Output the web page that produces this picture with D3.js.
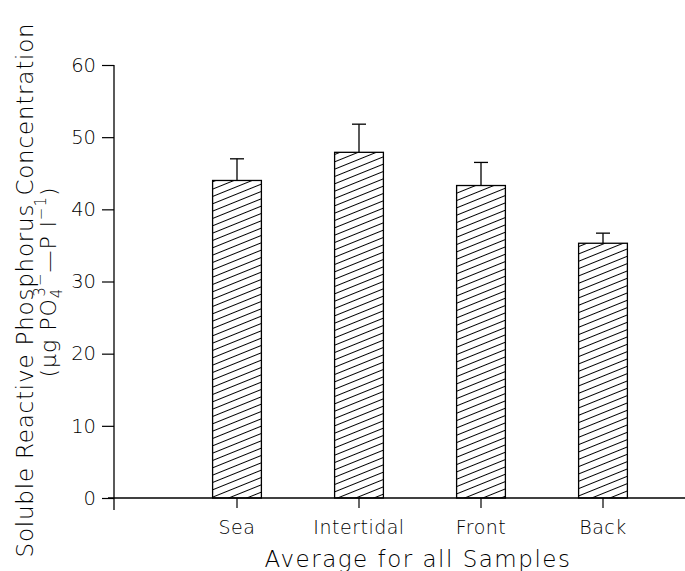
<!DOCTYPE html>
<html>
<head>
<meta charset="utf-8">
<script src="https://cdn.jsdelivr.net/npm/d3@7"></script>
<style>
  body { margin: 0; background: #fff; }
  text { font-family: "DejaVu Sans", sans-serif; font-weight: 200; fill: #000; }
</style>
</head>
<body>
<div id="chart"></div>
<script>
// data
var categories = ["Sea", "Intertidal", "Front", "Back"];
var means = [44.0, 47.9, 43.3, 35.3];
var errors = [3.0, 3.9, 3.2, 1.4];
var yTicks = [0, 10, 20, 30, 40, 50, 60];

var width = 685, height = 571;

var svg = d3.select("#chart")
    .append("svg")
    .attr("width", width)
    .attr("height", height);

// hatch pattern for the bars
var defs = svg.append("defs");
defs.append("pattern")
    .attr("id", "hatch")
    .attr("patternUnits", "userSpaceOnUse")
    .attr("width", 40)
    .attr("height", 6.8)
    .attr("patternTransform", "rotate(-22)")
  .append("line")
    .attr("x1", 0).attr("y1", 3.4)
    .attr("x2", 40).attr("y2", 3.4)
    .attr("stroke", "#000")
    .attr("stroke-width", 1);

var y = d3.scaleLinear().domain([0, 60]).range([498, 65]);
var x = d3.scaleBand().domain(categories)
    .range([176, 664])
    .paddingInner(0.6)
    .paddingOuter(0.3);

var axisX = 114;

var g = svg.append("g");

// y axis
var yAxis = g.append("g")
    .attr("transform", "translate(" + axisX + ",0)")
    .call(d3.axisLeft(y).tickValues(yTicks).tickSize(12).tickPadding(6));
yAxis.select(".domain").remove();
yAxis.selectAll("text").style("font-size", "19.5px").attr("font-family", null).attr("fill", "#000");
yAxis.selectAll("line").attr("stroke", "#000").attr("stroke-width", 1.2);

g.append("line")
    .attr("x1", axisX).attr("x2", axisX)
    .attr("y1", y(60)).attr("y2", y(0) + 12)
    .attr("stroke", "#000").attr("stroke-width", 1.3);

// baseline
g.append("line")
    .attr("x1", axisX - 6).attr("x2", width)
    .attr("y1", y(0)).attr("y2", y(0))
    .attr("stroke", "#000").attr("stroke-width", 1.3);

// bars
g.selectAll(".bar")
    .data(categories)
    .enter().append("rect")
    .attr("class", "bar")
    .attr("x", function(d) { return x(d); })
    .attr("y", function(d, i) { return y(means[i]); })
    .attr("width", x.bandwidth())
    .attr("height", function(d, i) { return y(0) - y(means[i]); })
    .attr("fill", "url(#hatch)")
    .attr("stroke", "#000")
    .attr("stroke-width", 1.3);

// error bars
g.selectAll(".err")
    .data(categories)
    .enter().append("line")
    .attr("class", "err")
    .attr("x1", function(d) { return x(d) + x.bandwidth() / 2; })
    .attr("x2", function(d) { return x(d) + x.bandwidth() / 2; })
    .attr("y1", function(d, i) { return y(means[i]); })
    .attr("y2", function(d, i) { return y(means[i] + errors[i]); })
    .attr("stroke", "#000").attr("stroke-width", 1.3);

g.selectAll(".cap")
    .data(categories)
    .enter().append("line")
    .attr("class", "cap")
    .attr("x1", function(d) { return x(d) + x.bandwidth() / 2 - 7; })
    .attr("x2", function(d) { return x(d) + x.bandwidth() / 2 + 7; })
    .attr("y1", function(d, i) { return y(means[i] + errors[i]); })
    .attr("y2", function(d, i) { return y(means[i] + errors[i]); })
    .attr("stroke", "#000").attr("stroke-width", 1.3);

// category ticks and labels
g.selectAll(".ctick")
    .data(categories)
    .enter().append("line")
    .attr("x1", function(d) { return x(d) + x.bandwidth() / 2; })
    .attr("x2", function(d) { return x(d) + x.bandwidth() / 2; })
    .attr("y1", y(0)).attr("y2", y(0) + 10)
    .attr("stroke", "#000").attr("stroke-width", 1.2);

g.selectAll(".clabel")
    .data(categories)
    .enter().append("text")
    .attr("x", function(d) { return x(d) + x.bandwidth() / 2; })
    .attr("y", y(0) + 36)
    .attr("text-anchor", "middle")
    .style("font-size", "19px")
    .style("letter-spacing", "0.5px")
    .text(function(d) { return d; });

// axis titles
g.append("text")
    .attr("x", 418).attr("y", 567)
    .attr("text-anchor", "middle")
    .style("font-size", "23px")
    .style("letter-spacing", "1.5px")
    .text("Average for all Samples");

g.append("text")
    .attr("transform", "translate(33,290) rotate(-90)")
    .attr("text-anchor", "middle")
    .style("font-size", "23px")
    .style("letter-spacing", "0.8px")
    .text("Soluble Reactive Phosphorus Concentration");

var t2 = g.append("text")
    .attr("transform", "translate(56,282) rotate(-90)")
    .attr("text-anchor", "middle")
    .style("font-size", "22px")
    .style("letter-spacing", "1px");
t2.append("tspan").text("(\u03bcg PO");
t2.append("tspan").attr("dy", 6).style("font-size", "15px").text("4");
t2.append("tspan").attr("dy", -17).attr("dx", -9).style("font-size", "15px").text("3\u2212");
t2.append("tspan").attr("dy", 11).text("\u2014P l");
t2.append("tspan").attr("dy", -10).style("font-size", "15px").text("\u22121");
t2.append("tspan").attr("dy", 10).text(")");
</script>
</body>
</html>
